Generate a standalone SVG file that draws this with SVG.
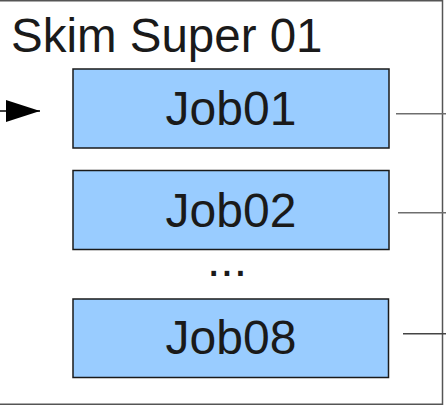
<svg xmlns="http://www.w3.org/2000/svg" width="446" height="406" viewBox="0 0 446 406">
<style>
text{font-family:"Liberation Sans",Arial,sans-serif;fill:#1a1a1a}
.job rect{fill:#99ccff;stroke:#1a1a1a;stroke-width:1.5}
.job text{font-size:48px;text-anchor:middle}
.out{stroke:#6e6e6e;stroke-width:1.5;fill:none}
</style>
<defs>
<marker id="ah" markerWidth="34" markerHeight="22" refX="34" refY="11" orient="auto" markerUnits="userSpaceOnUse">
<path d="M0,0 L34,11 L0,22 Z" fill="#000"/>
</marker>
</defs>
<g id="frame">
<rect x="-3" y="0.75" width="445.5" height="403.5" fill="#fff" stroke="#555" stroke-width="1.5"/>
<text x="11" y="52" font-size="47.5">Skim Super 01</text>
</g>
<g id="connectors">
<line x1="0" y1="111" x2="40" y2="111" stroke="#000" stroke-width="1.5" marker-end="url(#ah)"/>
<line class="out" x1="396" y1="113.7" x2="446" y2="113.7"/>
<line class="out" x1="398" y1="212.7" x2="446" y2="212.7"/>
<line class="out" x1="403" y1="333.7" x2="446" y2="333.7" style="stroke:#444"/>
</g>
<g id="job01" class="job">
<rect x="73" y="69" width="316" height="79"/>
<text x="231" y="125">Job01</text>
</g>
<g id="job02" class="job">
<rect x="73" y="170.5" width="316" height="79"/>
<text x="231" y="227">Job02</text>
</g>
<g id="dots">
<text x="227" y="276" font-size="48" text-anchor="middle">...</text>
</g>
<g id="job08" class="job">
<rect x="73" y="299" width="315.5" height="78.5"/>
<text x="231" y="354">Job08</text>
</g>
</svg>
